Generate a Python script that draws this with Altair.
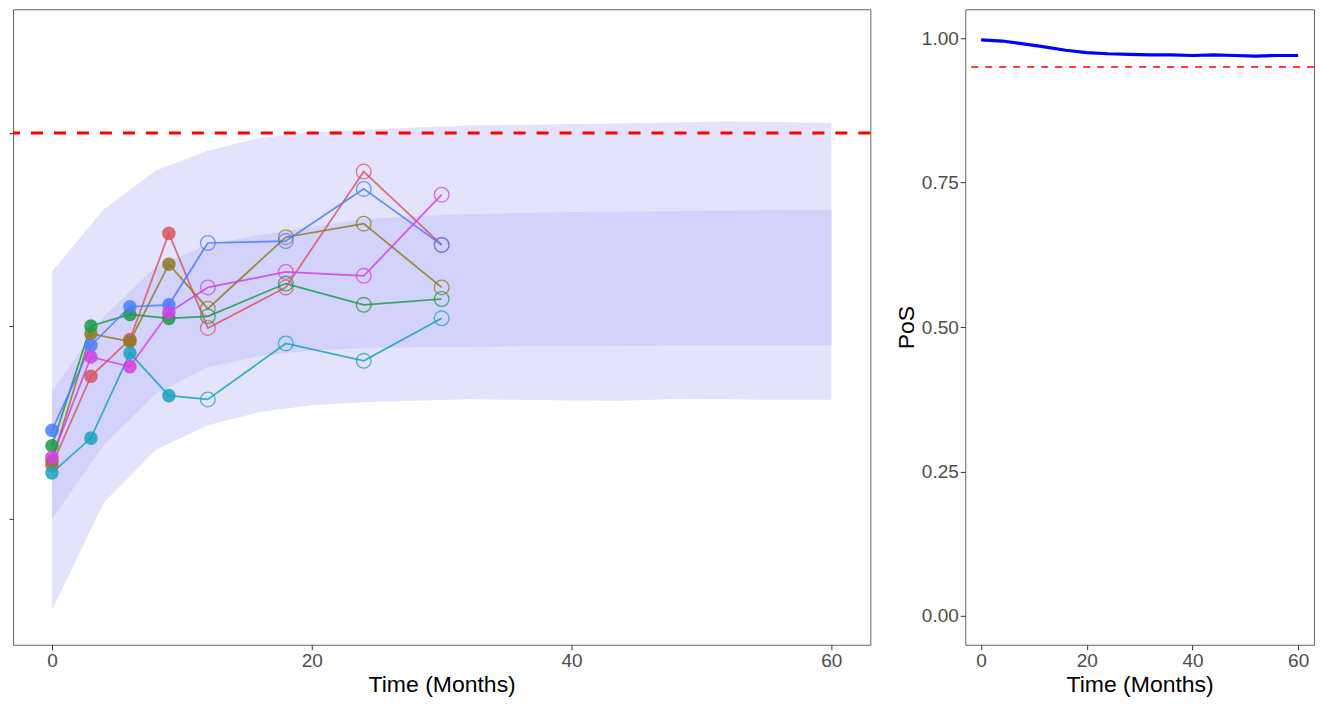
import altair as alt
import pandas as pd

# ---- left panel data ----
obs_times = [0, 3, 6, 9, 12, 18, 24, 30]
subject_names = ["S1", "S2", "S3", "S4", "S5", "S6"]
subject_colors = ["#D95361", "#8E7A1D", "#1A9B48", "#17A3BD", "#4A7BFF", "#D33FE3"]
s1 = [1.28, 1.74, 1.93, 2.48, 1.99, 2.20, 2.80, 2.42]
s2 = [1.30, 1.96, 1.92, 2.32, 2.09, 2.46, 2.53, 2.20]
s3 = [1.38, 2.00, 2.06, 2.04, 2.05, 2.22, 2.11, 2.14]
s4 = [1.24, 1.42, 1.86, 1.64, 1.62, 1.91, 1.82, 2.04]
s5 = [1.46, 1.90, 2.10, 2.11, 2.43, 2.44, 2.71, 2.42]
s6 = [1.32, 1.84, 1.79, 2.07, 2.20, 2.28, 2.26, 2.68]
last_observed = 9

band_times = [0, 4, 8, 12, 16, 20, 24, 28, 32, 36, 40, 44, 48, 52, 56, 60]
outer_hi = [2.282, 2.605, 2.805, 2.908, 2.974, 3.003, 3.015, 3.028, 3.038, 3.041, 3.046, 3.049, 3.054, 3.059, 3.056, 3.051]
outer_lo = [0.530, 1.087, 1.359, 1.487, 1.555, 1.590, 1.605, 1.613, 1.621, 1.618, 1.615, 1.613, 1.623, 1.621, 1.618, 1.619]
inner_hi = [1.658, 2.051, 2.308, 2.421, 2.472, 2.513, 2.554, 2.569, 2.579, 2.585, 2.590, 2.592, 2.595, 2.597, 2.600, 2.602]
inner_lo = [1.000, 1.385, 1.651, 1.785, 1.846, 1.874, 1.885, 1.890, 1.892, 1.895, 1.897, 1.897, 1.900, 1.900, 1.901, 1.901]
threshold_left = 3.0
left_ticks = [1, 2, 3]

# ---- right panel data ----
pos_times = [0, 4, 8, 12, 16, 20, 24, 28, 32, 36, 40, 44, 48, 52, 56, 60]
pos_values = [0.997, 0.995, 0.990, 0.985, 0.979, 0.975, 0.973, 0.972, 0.971, 0.971, 0.970, 0.971, 0.970, 0.969, 0.970, 0.970]
pos_threshold = 0.95

FONT = "Liberation Sans"

rows = []
for name, vals in zip(subject_names, [s1, s2, s3, s4, s5, s6]):
    for t, v in zip(obs_times, vals):
        rows.append({"subject": name, "time": t, "value": v, "observed": t <= last_observed})
pts = pd.DataFrame(rows)
band = pd.DataFrame({"time": band_times, "olo": outer_lo, "ohi": outer_hi, "ilo": inner_lo, "ihi": inner_hi})

xs = alt.Scale(domain=[-3, 63], nice=False, zero=False)
ys = alt.Scale(domain=[0.35, 3.64], nice=False, zero=False)
cs = alt.Scale(domain=subject_names, range=subject_colors)

xax = alt.Axis(values=[0, 20, 40, 60], title="Time (Months)")
X = alt.X("time:Q", scale=xs, axis=xax)

outer = alt.Chart(band).mark_area(color="#E3E3FC", opacity=1).encode(
    x=X, y=alt.Y("olo:Q", scale=ys, axis=alt.Axis(values=left_ticks, labels=False, title=None, tickSize=4)), y2="ohi:Q")
inner = alt.Chart(band).mark_area(color="#D2D2FA", opacity=1).encode(
    x=X, y=alt.Y("ilo:Q", scale=ys), y2="ihi:Q")
rule_l = alt.Chart(pd.DataFrame({"ref": [threshold_left]})).mark_rule(
    color="red", strokeDash=[12, 11], strokeWidth=3).encode(y=alt.Y("ref:Q", scale=ys))
lines = alt.Chart(pts).mark_line(strokeWidth=1.7, opacity=0.85).encode(
    x=X, y=alt.Y("value:Q", scale=ys),
    color=alt.Color("subject:N", scale=cs, legend=None), detail="subject:N", order="time:Q")
filled = alt.Chart(pts).transform_filter("datum.observed").mark_circle(size=185, opacity=0.85).encode(
    x=X, y=alt.Y("value:Q", scale=ys), color=alt.Color("subject:N", scale=cs, legend=None))
opened = alt.Chart(pts).transform_filter("!datum.observed").mark_point(
    size=215, filled=False, strokeWidth=1.3, opacity=0.75).encode(
    x=X, y=alt.Y("value:Q", scale=ys), color=alt.Color("subject:N", scale=cs, legend=None))

left = alt.layer(outer, inner, rule_l, lines, filled, opened).properties(width=858, height=636)

ys2 = alt.Scale(domain=[-0.05, 1.05], nice=False, zero=False)
pos_df = pd.DataFrame({"time": pos_times, "pos": pos_values})
pos_line = alt.Chart(pos_df).mark_line(color="blue", strokeWidth=3.2).encode(
    x=alt.X("time:Q", scale=xs, axis=alt.Axis(values=[0, 20, 40, 60], title="Time (Months)")),
    y=alt.Y("pos:Q", scale=ys2, axis=alt.Axis(values=[0, 0.25, 0.5, 0.75, 1.0], format=".2f", title="PoS")))
rule_r = alt.Chart(pd.DataFrame({"ref": [pos_threshold]})).mark_rule(
    color="red", strokeDash=[7, 7], strokeWidth=1.5).encode(y=alt.Y("ref:Q", scale=ys2))
right = alt.layer(rule_r, pos_line).properties(width=349, height=636)

chart = alt.hconcat(left, right, spacing=22).properties(
    padding={"left": 0, "top": 0, "right": 0, "bottom": 0},
    background="white"
).configure_view(stroke="#666666", strokeWidth=1).configure_axis(
    grid=False, domain=False, tickColor="#333333", tickSize=5,
    labelFont=FONT, labelFontSize=19, labelColor="#4D4D4D", labelPadding=2,
    titleFont=FONT, titleFontSize=23, titleFontWeight="normal", titleColor="#000000", titlePadding=3
)

chart.save("out.html", embed_options={"renderer": "svg", "actions": False})
